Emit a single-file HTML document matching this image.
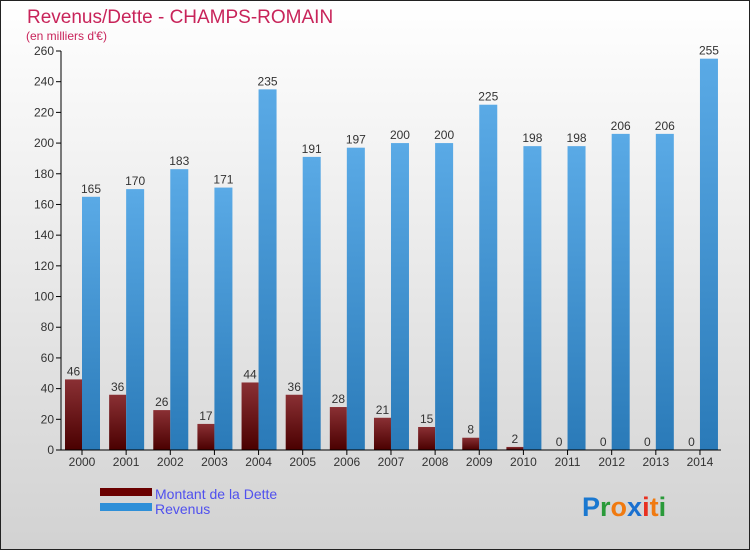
<!DOCTYPE html>
<html><head><meta charset="utf-8"><style>
html,body{margin:0;padding:0}
body{width:750px;height:550px;overflow:hidden;font-family:"Liberation Sans",sans-serif}
</style></head><body>
<svg id="chart" width="750" height="550" xmlns="http://www.w3.org/2000/svg">
<defs>
<linearGradient id="bg" x1="0" y1="0" x2="0" y2="1"><stop offset="0" stop-color="#ffffff"/><stop offset="1" stop-color="#d2d2d2"/></linearGradient>
<linearGradient id="gd" x1="0" y1="0" x2="0" y2="1"><stop offset="0" stop-color="#8a3034"/><stop offset="1" stop-color="#4a0000"/></linearGradient>
<linearGradient id="gr" x1="0" y1="0" x2="0" y2="1"><stop offset="0" stop-color="#5aaae6"/><stop offset="1" stop-color="#2a7ab8"/></linearGradient>
</defs>
<rect x="0.5" y="0.5" width="749" height="549" fill="url(#bg)" stroke="#222"/>
<text x="27" y="23" font-size="19" fill="#c8245a">Revenus/Dette - CHAMPS-ROMAIN</text>
<text x="26" y="40" font-size="12" fill="#c8245a">(en milliers d'€)</text>
<g id="plot"></g>
<rect x="100" y="488" width="52" height="8" fill="#6a0000"/>
<rect x="100" y="503" width="52" height="8" fill="#2e8fd8"/>
<text x="155" y="499" font-size="14" fill="#5050ee">Montant de la Dette</text>
<text x="155" y="514" font-size="14" fill="#5050ee">Revenus</text>
<text x="582" y="516" font-size="27" font-weight="bold"><tspan fill="#1a78d0">P</tspan><tspan fill="#2a9a3a">r</tspan><tspan fill="#f07a10">o</tspan><tspan fill="#1a70d0">x</tspan><tspan fill="#e83020">i</tspan><tspan fill="#f07a10">t</tspan><tspan fill="#2a9a3a">i</tspan></text>
</svg>
<script>
const categories=["2000","2001","2002","2003","2004","2005","2006","2007","2008","2009","2010","2011","2012","2013","2014"];
const dette=[46,36,26,17,44,36,28,21,15,8,2,0,0,0,0];
const revenus=[165,170,183,171,235,191,197,200,200,225,198,198,206,206,255];
const yTicks=[0,20,40,60,80,100,120,140,160,180,200,220,240,260];
const NS="http://www.w3.org/2000/svg";
const g=document.getElementById('plot');
const y0=450,yTop=51,yMax=260;
const y=v=>y0-v*(y0-yTop)/yMax;
const x=i=>82+i*44.14;
function mk(t,a){const e=document.createElementNS(NS,t);for(const k in a)e.setAttribute(k,a[k]);g.appendChild(e);return e;}
yTicks.forEach(v=>{
 const l=mk('line',{x1:56,x2:61,y1:y(v),y2:y(v),stroke:'#000'});
 
 
 const t=mk('text',{x:54,y:y(v)+4,'font-size':12,'text-anchor':'end',fill:'#333'});
 t.textContent=v;
 
 
});
categories.forEach((c,i)=>{
 const cx=x(i);
 const bd=mk('rect',{x:cx-17,y:y(dette[i]),width:17,height:y0-y(dette[i]),fill:'url(#gd)'});
 
 
 const br=mk('rect',{x:cx,y:y(revenus[i]),width:18,height:y0-y(revenus[i]),fill:'url(#gr)'});
 
 
 const td=mk('text',{x:cx-8.5,y:y(dette[i])-4,'font-size':12,'text-anchor':'middle',fill:'#333'});
 td.textContent=dette[i];
 
 
 const tr=mk('text',{x:cx+9,y:y(revenus[i])-4,'font-size':12,'text-anchor':'middle',fill:'#333'});
 tr.textContent=revenus[i];
 
 
 const tk=mk('line',{x1:cx,x2:cx,y1:450,y2:455,stroke:'#000'});
 
 
 const tl=mk('text',{x:cx,y:466,'font-size':12,'text-anchor':'middle',fill:'#333'});
 tl.textContent=c;
 
 
});
const ya=mk('line',{x1:61,x2:61,y1:51,y2:450,stroke:'#000'});


const xa=mk('line',{x1:61,x2:721,y1:450,y2:450,stroke:'#000'});


</script>
</body></html>
